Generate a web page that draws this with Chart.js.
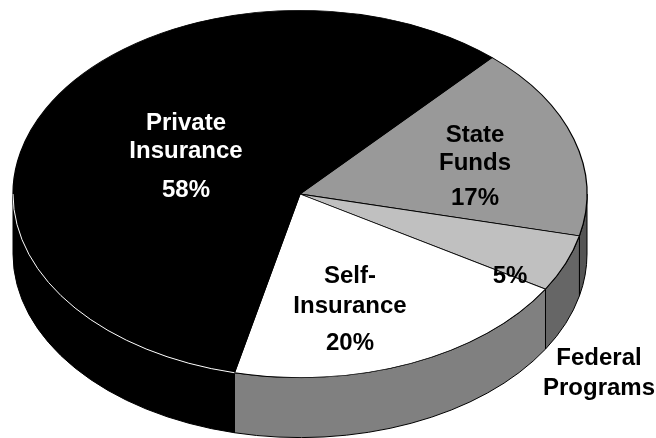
<!DOCTYPE html>
<html>
<head>
<meta charset="utf-8">
<script src="https://cdn.jsdelivr.net/npm/chart.js@4/dist/chart.umd.min.js"></script>
<style>
  html, body { margin: 0; padding: 0; background: #fff; }
  #wrap { width: 656px; height: 438px; }
</style>
</head>
<body>
<div id="wrap"><canvas id="pieChart"></canvas></div>
<script>
// data
const categories = ["State Funds", "Federal Programs", "Self-Insurance", "Private Insurance"];
const shares = [17, 5, 20, 58];
const topColors = ["#999999", "#c0c0c0", "#ffffff", "#000000"];
const sideColors = ["#555555", "#666666", "#808080", "#000000"];
const textColors = ["#000000", "#000000", "#000000", "#ffffff"];

// where the text sits (name lines, then the percent line)
const labelSpots = [
  { x: 475, name: [142, 170], pct: { x: 475, y: 205 } },
  { x: 599, name: [365, 395], pct: { x: 510, y: 283 } },
  { x: 350, name: [283, 313], pct: { x: 350, y: 350 } },
  { x: 186, name: [130, 158], pct: { x: 186, y: 197 } }
];

const DEPTH = 60;

function stretchOf(chart, arc) {
  return (chart.chartArea.width / 2) / arc.outerRadius;
}

// parts of [a,b] that face the viewer (0..PI)
function frontSpans(a, b) {
  const out = [];
  for (let k = -2; k <= 2; k++) {
    const s = Math.max(a, k * 2 * Math.PI);
    const e = Math.min(b, k * 2 * Math.PI + Math.PI);
    if (e > s) out.push([s, e]);
  }
  return out;
}

const tiltPlugin = {
  id: "tilt",
  beforeDatasetsDraw(chart) {
    const ctx = chart.ctx;
    const arcs = chart.getDatasetMeta(0).data;
    arcs.forEach((arc, i) => {
      const sx = stretchOf(chart, arc);
      frontSpans(arc.startAngle, arc.endAngle).forEach(([s, e]) => {
        ctx.save();
        ctx.translate(arc.x, arc.y);
        ctx.scale(sx, 1);
        ctx.beginPath();
        ctx.arc(0, 0, arc.outerRadius, s, e);
        ctx.arc(0, DEPTH, arc.outerRadius, e, s, true);
        ctx.closePath();
        ctx.restore();
        ctx.fillStyle = sideColors[i];
        ctx.fill();
        ctx.lineWidth = 1;
        ctx.strokeStyle = "#000";
        ctx.stroke();
      });
    });
    // squash the top face into an ellipse
    const a0 = arcs[0];
    const sx = stretchOf(chart, a0);
    ctx.save();
    ctx.translate(a0.x, a0.y);
    ctx.scale(sx, 1);
    ctx.translate(-a0.x, -a0.y);
  },
  afterDatasetsDraw(chart) {
    const ctx = chart.ctx;
    ctx.restore();
    const arcs = chart.getDatasetMeta(0).data;
    // white rim where the black top meets its black side
    const pa = arcs[3];
    const sx = stretchOf(chart, pa);
    frontSpans(pa.startAngle, pa.endAngle).forEach(([s, e]) => {
      ctx.save();
      ctx.translate(pa.x, pa.y);
      ctx.scale(sx, 1);
      ctx.beginPath();
      ctx.arc(0, 0, pa.outerRadius, s, e);
      ctx.restore();
      ctx.strokeStyle = "#fff";
      ctx.lineWidth = 1;
      ctx.stroke();
    });

    ctx.save();
    ctx.font = 'bold 24px "Liberation Sans", Arial, sans-serif';
    ctx.textAlign = "center";
    ctx.textBaseline = "alphabetic";
    categories.forEach((name, i) => {
      const spot = labelSpots[i];
      const words = name.indexOf("-") > 0 ? [name.split("-")[0] + "-", name.split("-")[1]] : name.split(" ");
      ctx.fillStyle = i === 1 ? "#000" : textColors[i];
      words.forEach((w, j) => ctx.fillText(w, spot.x, spot.name[j]));
      ctx.fillStyle = textColors[i];
      ctx.fillText(shares[i] + "%", spot.pct.x, spot.pct.y);
    });
    ctx.restore();
  }
};

const PIE = document.getElementById("pieChart");
let pieChart = new Chart(PIE, {
  type: "pie",
  data: {
    labels: categories,
    datasets: [
      {
        data: shares,
        backgroundColor: topColors,
        borderColor: "#000",
        borderWidth: 0.8,
        clip: false
      }
    ]
  },
  options: {
    responsive: true,
    maintainAspectRatio: false,
    animation: false,
    events: [],
    rotation: 42,
    layout: { padding: { left: 13, right: 69, top: 10, bottom: 60 } },
    plugins: {
      legend: { display: false },
      tooltip: { enabled: false }
    }
  },
  plugins: [tiltPlugin]
});
</script>
</body>
</html>
